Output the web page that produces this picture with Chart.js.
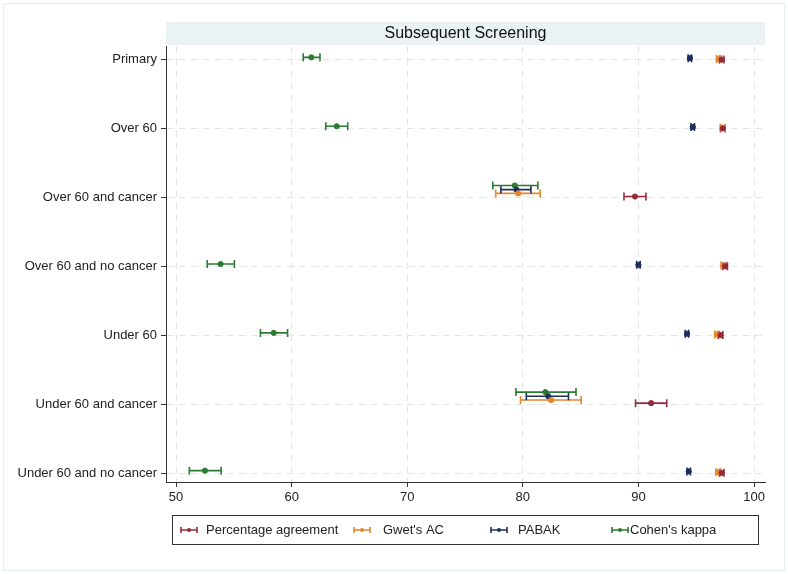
<!DOCTYPE html>
<html>
<head>
<meta charset="utf-8">
<script src="https://cdn.jsdelivr.net/npm/chart.js@4.4.1/dist/chart.umd.min.js"></script>
<style>
  html, body { margin: 0; padding: 0; background: #fff; }
  #wrap { width: 788px; height: 574px; }
</style>
</head>
<body>
<div id="wrap"><canvas id="grafico" width="788" height="574"></canvas></div>
<script>
// datos
const titulo = 'Subsequent Screening';
const categorias = ['Primary', 'Over 60', 'Over 60 and cancer', 'Over 60 and no cancer',
                    'Under 60', 'Under 60 and cancer', 'Under 60 and no cancer'];
const ticksX = [50, 60, 70, 80, 90, 100];

const series = ['Percentage agreement', "Gwet's AC", 'PABAK', "Cohen's kappa"];

const pctEst  = [97.2, 97.3, 89.7, 97.5, 97.1, 91.1, 97.2];
const pctLow  = [97.0, 97.1, 88.75, 97.3, 96.9, 89.75, 97.0];
const pctHigh = [97.4, 97.5, 90.65, 97.7, 97.3, 92.45, 97.4];

const gwetEst  = [96.95, 97.3, 79.6, 97.35, 96.8, 82.45, 96.9];
const gwetLow  = [96.75, 97.1, 77.65, 97.15, 96.6, 79.8, 96.7];
const gwetHigh = [97.15, 97.5, 81.5, 97.55, 97.0, 85.05, 97.1];

const pabakEst  = [94.45, 94.7, 79.45, 90.0, 94.2, 82.2, 94.35];
const pabakLow  = [94.3, 94.55, 78.1, 89.85, 94.05, 80.3, 94.2];
const pabakHigh = [94.6, 94.85, 80.7, 90.15, 94.35, 83.95, 94.5];

const kappaEst  = [61.7, 63.9, 79.3, 53.85, 58.45, 81.95, 52.5];
const kappaLow  = [61.0, 62.95, 77.4, 52.7, 57.3, 79.4, 51.15];
const kappaHigh = [62.45, 64.85, 81.3, 55.05, 59.65, 84.6, 53.9];

// estilo
const colores = ['#952a3b', '#e5872c', '#1c2f5c', '#2d7a33'];
const desplaz = [-0.015, -0.06, -0.115, -0.175];   // separacion vertical de cada serie
const abrir = [0.2, 0.2, 1, 0.2, 0.2, 1, 0.2];      // filas con intervalos solapados
const fuente = '"Liberation Sans", Arial, sans-serif';

const estimados = [pctEst, gwetEst, pabakEst, kappaEst];
const bajos = [pctLow, gwetLow, pabakLow, kappaLow];
const altos = [pctHigh, gwetHigh, pabakHigh, kappaHigh];

function posY(s, i) {
    return i + desplaz[s] * abrir[i];
}

const datasets = series.map(function (nombre, s) {
    return {
        label: nombre,
        data: estimados[s].map((v, i) => ({ x: v, y: posY(s, i) })),
        backgroundColor: colores[s],
        borderColor: colores[s],
        pointRadius: 2.6,
        pointHoverRadius: 2.6,
        showLine: false
    };
});

const fondoPlugin = {
    id: 'fondo',
    beforeDraw(chart) {
        const ctx = chart.ctx;
        const a = chart.chartArea;
        ctx.save();
        ctx.fillStyle = '#ffffff';
        ctx.fillRect(0, 0, chart.width, chart.height);
        ctx.strokeStyle = '#e4eff1';
        ctx.lineWidth = 1;
        ctx.strokeRect(3.5, 3.5, chart.width - 7, chart.height - 7);
        // banda del titulo
        ctx.fillStyle = '#eaf2f3';
        ctx.fillRect(a.left, 22, a.right - a.left, a.top - 23);
        ctx.fillStyle = '#111';
        ctx.font = '16px ' + fuente;
        ctx.textAlign = 'center';
        ctx.textBaseline = 'middle';
        ctx.fillText(titulo, (a.left + a.right) / 2, 34);
        ctx.restore();
    }
};

function barra(ctx, x1, x2, y, color, cap) {
    ctx.strokeStyle = color;
    ctx.lineWidth = 1.6;
    ctx.beginPath();
    ctx.moveTo(x1, y); ctx.lineTo(x2, y);
    ctx.moveTo(x1, y - cap); ctx.lineTo(x1, y + cap);
    ctx.moveTo(x2, y - cap); ctx.lineTo(x2, y + cap);
    ctx.stroke();
}

const barrasPlugin = {
    id: 'barras',
    beforeDatasetsDraw(chart) {
        const ctx = chart.ctx;
        const sx = chart.scales.x, sy = chart.scales.y;
        ctx.save();
        series.forEach(function (n, s) {
            for (let i = 0; i < categorias.length; i++) {
                const y = sy.getPixelForValue(posY(s, i));
                barra(ctx, sx.getPixelForValue(bajos[s][i]), sx.getPixelForValue(altos[s][i]), y, colores[s], 4);
            }
        });
        ctx.restore();
    }
};

const leyendaPlugin = {
    id: 'leyenda',
    afterDraw(chart) {
        const ctx = chart.ctx;
        ctx.save();
        ctx.strokeStyle = '#333';
        ctx.lineWidth = 1;
        ctx.strokeRect(172.5, 515.5, 586, 29);
        const iconos = [181, 354, 491, 612];
        const textos = [206, 383, 518, 630];
        ctx.font = '13px ' + fuente;
        ctx.textBaseline = 'middle';
        ctx.textAlign = 'left';
        series.forEach(function (nombre, s) {
            const y = 530;
            barra(ctx, iconos[s], iconos[s] + 16, y, colores[s], 3);
            ctx.fillStyle = colores[s];
            ctx.beginPath();
            ctx.arc(iconos[s] + 8, y, 2, 0, Math.PI * 2);
            ctx.fill();
            ctx.fillStyle = '#222';
            ctx.fillText(nombre, textos[s], y + 0.5);
        });
        ctx.restore();
    }
};

const config = {
    type: 'scatter',
    data: { datasets: datasets },
    plugins: [fondoPlugin, barrasPlugin, leyendaPlugin],
    options: {
        responsive: false,
        animation: false,
        events: [],
        layout: { padding: { top: 46, right: 23, left: 0, bottom: 0 } },
        plugins: {
            legend: { display: false },
            tooltip: { enabled: false }
        },
        scales: {
            x: {
                type: 'linear',
                min: 49.13,
                max: 100.95,
                afterBuildTicks: function (scale) {
                    scale.ticks = ticksX.map(v => ({ value: v }));
                },
                afterFit: function (scale) { scale.height = 92; },
                grid: { color: '#e2e8ea', lineWidth: 1, tickColor: '#333', tickLength: 5 },
                border: { display: true, color: '#333', width: 1, dash: [7, 5] },
                ticks: { color: '#222', font: { family: fuente, size: 13 }, padding: 3, maxRotation: 0 }
            },
            y: {
                type: 'linear',
                reverse: true,
                min: -0.2,
                max: 6.13,
                afterBuildTicks: function (scale) {
                    scale.ticks = categorias.map((c, i) => ({ value: i }));
                },
                afterFit: function (scale) { scale.width = 166; },
                grid: { color: '#e2e8ea', lineWidth: 1, tickColor: '#333', tickLength: 5 },
                border: { display: true, color: '#333', width: 1, dash: [7, 5] },
                ticks: {
                    color: '#222',
                    font: { family: fuente, size: 13 },
                    padding: 4,
                    callback: function (v) { return categorias[v]; }
                }
            }
        }
    }
};

const miGrafico = new Chart(document.getElementById('grafico').getContext('2d'), config);
</script>
</body>
</html>
